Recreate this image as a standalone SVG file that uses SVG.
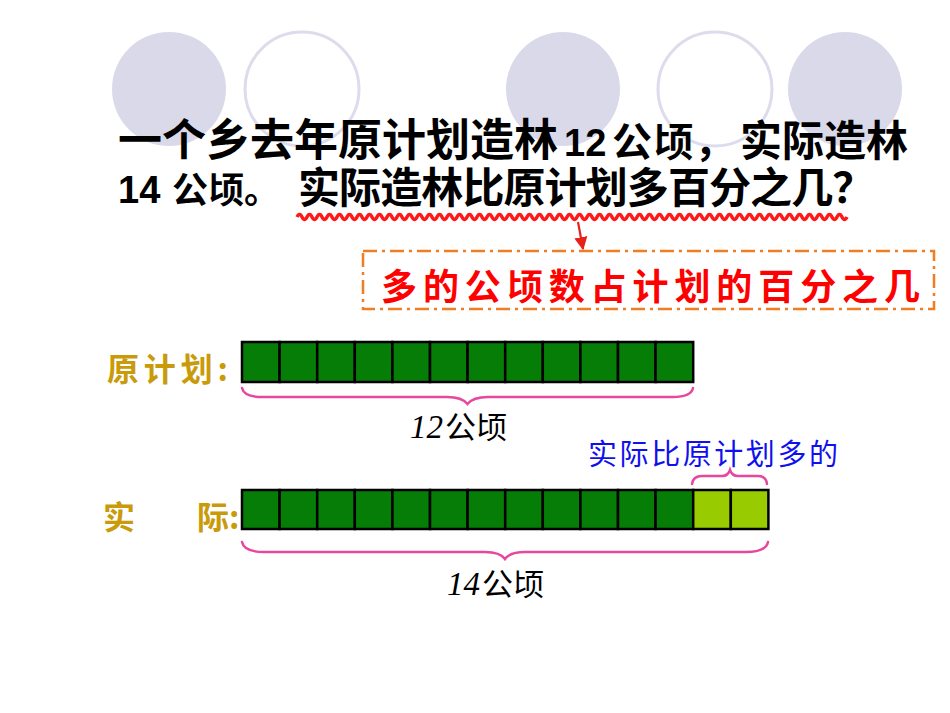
<svg xmlns="http://www.w3.org/2000/svg" width="950" height="713" viewBox="0 0 950 713">
<style>
.cf{fill:#d9d9ea;stroke:none}
.co{fill:none;stroke:#dcdcec;stroke-width:3}
.t{font-family:"Noto Sans CJK SC","Noto Sans",sans-serif;font-weight:bold;fill:#000}
.d{font-family:"Liberation Sans",Arial,sans-serif;font-weight:bold}
.lab{font-family:"Noto Sans CJK SC",sans-serif;font-weight:bold;fill:#c99a0a;font-size:32px}
.g{fill:#067d06;stroke:#000;stroke-width:2.5}
.lg{fill:#99cc00;stroke:#000;stroke-width:2.5}
.br{fill:none;stroke:#e8479e;stroke-width:2.5;stroke-linecap:round}
.n{font-family:"Liberation Serif","Times New Roman",serif;font-style:italic;fill:#000}
.u{font-family:"Noto Sans CJK SC",sans-serif;fill:#000}
</style>
<defs>
<marker id="ah" viewBox="0 0 10 10" refX="9" refY="5" markerWidth="6" markerHeight="6" orient="auto">
<path d="M0,0 L10,5 L0,10 z" fill="#e8201a"/>
</marker>
</defs>
<rect width="950" height="713" fill="#fff"/>
<g id="decor">
<circle class="cf" cx="169" cy="89" r="57"/>
<circle class="co" cx="302" cy="89" r="57"/>
<circle class="cf" cx="563" cy="89" r="57"/>
<circle class="co" cx="715" cy="89" r="57"/>
<circle class="cf" cx="845" cy="89" r="57"/>
</g>
<g id="question">
<text class="t" font-size="44"><tspan x="118" y="156">一个乡去年原计划造林</tspan><tspan class="d" x="564" y="156" font-size="38">12</tspan><tspan x="612" y="156" font-size="40" letter-spacing="1.3">公顷，</tspan><tspan x="740" y="156" font-size="42">实际造林</tspan><tspan class="d" x="118" y="203" font-size="38">14</tspan><tspan x="172" y="203" font-size="36">公顷。</tspan><tspan x="298" y="203" font-size="42" letter-spacing="-0.9">实际造林比原计划多百分之几？</tspan></text>
<path d="M297,217 q2.5,-5 5,0 t5,0 t5,0 t5,0 t5,0 t5,0 t5,0 t5,0 t5,0 t5,0 t5,0 t5,0 t5,0 t5,0 t5,0 t5,0 t5,0 t5,0 t5,0 t5,0 t5,0 t5,0 t5,0 t5,0 t5,0 t5,0 t5,0 t5,0 t5,0 t5,0 t5,0 t5,0 t5,0 t5,0 t5,0 t5,0 t5,0 t5,0 t5,0 t5,0 t5,0 t5,0 t5,0 t5,0 t5,0 t5,0 t5,0 t5,0 t5,0 t5,0 t5,0 t5,0 t5,0 t5,0 t5,0 t5,0 t5,0 t5,0 t5,0 t5,0 t5,0 t5,0 t5,0 t5,0 t5,0 t5,0 t5,0 t5,0 t5,0 t5,0 t5,0 t5,0 t5,0 t5,0 t5,0 t5,0 t5,0 t5,0 t5,0 t5,0 t5,0 t5,0 t5,0 t5,0 t5,0 t5,0 t5,0 t5,0 t5,0 t5,0 t5,0 t5,0 t5,0 t5,0 t5,0 t5,0 t5,0 t5,0 t5,0 t5,0 t5,0 t5,0 t5,0 t5,0 t5,0 t5,0 t5,0 t5,0 t5,0 t5,0" fill="none" stroke="#ff1a1a" stroke-width="3.5"/>
</g>
<g id="connectors">
<line x1="578" y1="222" x2="583" y2="249" stroke="#e8201a" stroke-width="2.2" marker-end="url(#ah)"/>
</g>
<g id="explain">
<rect x="363" y="251" width="571" height="58" fill="none" stroke="#f07d22" stroke-width="2.5" stroke-dasharray="14 5 3 5"/>
<text x="381" y="300" font-family="'Noto Sans CJK SC',sans-serif" font-weight="bold" font-size="36" fill="#ff0000" textLength="539" lengthAdjust="spacing">多的公顷数占计划的百分之几</text>
</g>
<g id="plan">
<text class="lab" x="107" y="381" textLength="121" lengthAdjust="spacing">原计划:</text>
<rect class="g" x="242" y="342" width="37.6" height="40"/>
<rect class="g" x="279.6" y="342" width="37.6" height="40"/>
<rect class="g" x="317.2" y="342" width="37.6" height="40"/>
<rect class="g" x="354.8" y="342" width="37.6" height="40"/>
<rect class="g" x="392.4" y="342" width="37.6" height="40"/>
<rect class="g" x="430" y="342" width="37.6" height="40"/>
<rect class="g" x="467.6" y="342" width="37.6" height="40"/>
<rect class="g" x="505.2" y="342" width="37.6" height="40"/>
<rect class="g" x="542.8" y="342" width="37.6" height="40"/>
<rect class="g" x="580.4" y="342" width="37.6" height="40"/>
<rect class="g" x="618" y="342" width="37.6" height="40"/>
<rect class="g" x="655.6" y="342" width="37.6" height="40"/>
<path class="br" d="M242,388 Q244,397 262,397 L447,397 Q462,397 467.5,404 Q473,397 488,397 L673,397 Q691,397 693,388"/>
<text x="410" y="438" font-size="31"><tspan class="n" font-size="33">12</tspan><tspan class="u" dx="2">公顷</tspan></text>
</g>
<g id="actual">
<text class="lab" x="103" y="529">实</text>
<text class="lab" x="197" y="529">际:</text>
<rect class="g" x="242" y="490" width="37.6" height="39"/>
<rect class="g" x="279.6" y="490" width="37.6" height="39"/>
<rect class="g" x="317.2" y="490" width="37.6" height="39"/>
<rect class="g" x="354.8" y="490" width="37.6" height="39"/>
<rect class="g" x="392.4" y="490" width="37.6" height="39"/>
<rect class="g" x="430" y="490" width="37.6" height="39"/>
<rect class="g" x="467.6" y="490" width="37.6" height="39"/>
<rect class="g" x="505.2" y="490" width="37.6" height="39"/>
<rect class="g" x="542.8" y="490" width="37.6" height="39"/>
<rect class="g" x="580.4" y="490" width="37.6" height="39"/>
<rect class="g" x="618" y="490" width="37.6" height="39"/>
<rect class="g" x="655.6" y="490" width="37.6" height="39"/>
<rect class="lg" x="693.2" y="490" width="37.6" height="39"/>
<rect class="lg" x="730.8" y="490" width="37.6" height="39"/>
<path class="br" d="M242,542 Q244,552 264,552 L485,552 Q500,552 505,559 Q510,552 525,552 L746,552 Q766,552 768,542"/>
<text x="447" y="595" font-size="31"><tspan class="n" font-size="33">14</tspan><tspan class="u" dx="2">公顷</tspan></text>
<path class="br" d="M692,484 Q693,476 702,476 L722,476 Q728,476 730,470 Q732,476 738,476 L758,476 Q766,476 767,484"/>
<text x="588" y="465" font-family="'Noto Sans CJK SC',sans-serif" font-size="29" fill="#1010ee" textLength="250" lengthAdjust="spacing">实际比原计划多的</text>
</g>
</svg>
